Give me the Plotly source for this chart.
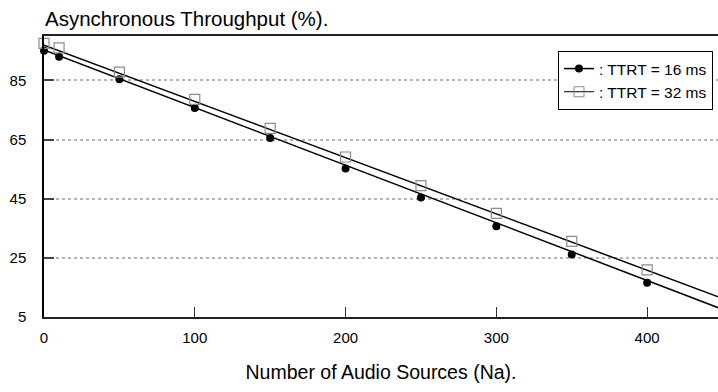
import plotly.graph_objects as go

# Data
na = [0, 10, 50, 100, 150, 200, 250, 300, 350, 400]
ttrt16 = [95.0, 93.0, 85.4, 75.7, 65.5, 55.2, 45.4, 35.7, 26.1, 16.6]
ttrt32 = [97.5, 96.0, 87.8, 78.6, 68.8, 59.1, 49.4, 40.0, 30.6, 20.9]

# Straight trend lines drawn through each series (end points)
line_na = [0, 450]
line16 = [95.3, 7.6]
line32 = [96.9, 11.3]

y_ticks = [5, 25, 45, 65, 85]
x_ticks = [0, 100, 200, 300, 400]

FONT = "Liberation Sans Narrow, Arial Narrow, Liberation Sans, Arial, sans-serif"

fig = go.Figure()

fig.add_trace(go.Scatter(x=line_na, y=line16, mode="lines",
                         line=dict(color="black", width=1.5),
                         showlegend=False, hoverinfo="skip"))
fig.add_trace(go.Scatter(x=line_na, y=line32, mode="lines",
                         line=dict(color="black", width=1.5),
                         showlegend=False, hoverinfo="skip"))
fig.add_trace(go.Scatter(x=na, y=ttrt16, mode="markers",
                         marker=dict(symbol="circle", size=8, color="black"),
                         cliponaxis=False, showlegend=False))
fig.add_trace(go.Scatter(x=na, y=ttrt32, mode="markers",
                         marker=dict(symbol="square-open", size=10, color="#8c8c8c",
                                     line=dict(width=1.2)),
                         cliponaxis=False, showlegend=False))

# legend entries
fig.add_trace(go.Scatter(x=[None], y=[None], mode="lines+markers", name=": TTRT = 16 ms",
                         line=dict(color="black", width=1.5),
                         marker=dict(symbol="circle", size=8, color="black")))
fig.add_trace(go.Scatter(x=[None], y=[None], mode="lines+markers", name=": TTRT = 32 ms",
                         line=dict(color="black", width=1),
                         marker=dict(symbol="square-open", size=10, color="#8c8c8c")))

fig.update_layout(
    width=718, height=392,
    margin=dict(l=44, r=0, t=36, b=75),
    paper_bgcolor="white", plot_bgcolor="white",
    font=dict(family=FONT, size=15, color="black"),
    showlegend=True,
    legend=dict(x=0.9926, xanchor="right", y=0.9466, yanchor="top",
                bgcolor="white", bordercolor="black", borderwidth=1,
                font=dict(size=15.5), tracegroupgap=0),
    xaxis=dict(range=[0, 447], tickvals=x_ticks, showgrid=False, zeroline=False,
               showline=True, linecolor="#222", linewidth=2, mirror=True,
               ticks="inside", ticklen=10, tickwidth=1, tickcolor="#333",
               ticklabelstandoff=6,
               title=dict(text="Number of Audio Sources (Na).", font=dict(size=19.5),
                          standoff=20)),
    yaxis=dict(range=[5, 100], tickvals=y_ticks, showgrid=True,
               gridcolor="#b4b4b4", griddash="dot", gridwidth=1.5, zeroline=False,
               showline=True, linecolor="black", linewidth=1.5,
               ticks="inside", ticklen=10, tickwidth=2, tickcolor="#444",
               ticklabelstandoff=13),
    annotations=[dict(text="Asynchronous Throughput (%).", xref="paper", yref="paper",
                      x=-0.002, y=1.064, xanchor="left", yanchor="middle",
                      showarrow=False, font=dict(size=20.5))],
)

fig.write_html("out.html")
